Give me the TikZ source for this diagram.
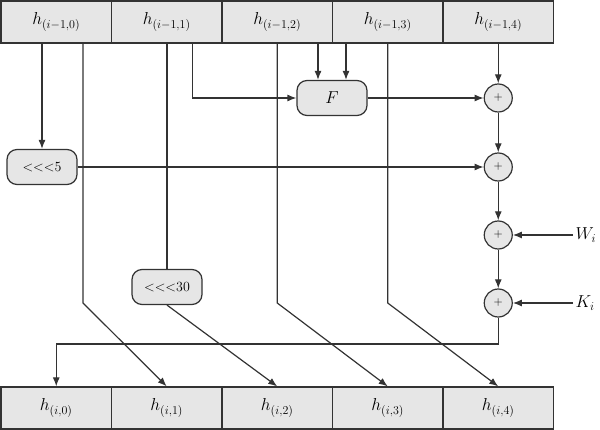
\documentclass[tikz,border=0pt]{standalone}
\usetikzlibrary{arrows.meta,positioning}
\definecolor{BoxGray}{HTML}{E6E6E6}
\definecolor{Ink}{HTML}{333333}

\tikzset{
  hbox/.style={draw=Ink,fill=BoxGray,minimum width=110.5pt,minimum height=42pt,inner sep=0pt},
  rotbox/.style={draw=Ink,fill=BoxGray,rounded corners=10pt,minimum width=70pt,minimum height=35pt,inner sep=0pt},
  adder/.style={circle,draw=Ink,fill=BoxGray,minimum size=28pt,inner sep=0pt,font=\fontsize{13}{14}\selectfont},
  arr/.style={draw=Ink,-{Latex[length=9pt,width=7pt]}},
  wire/.style={draw=Ink}
}

\begin{document}
\begin{tikzpicture}[x=1pt,y=-1pt,line width=1.2pt,font=\fontsize{18}{21}\selectfont]
    \useasboundingbox (0,0) rectangle (600,430);
    % state words, before and after
    \foreach \i in {0,1,2,3,4}{
      \pgfmathsetmacro{\x}{56.25+110.5*\i}
      \node[hbox] (old\i) at (\x,22) {$h_{(i-1,\i)}$};
      \node[hbox] (new\i) at (\x,408) {$h_{(i,\i)}$};
    }
    % round function parts
    \node[rotbox] (F) at (332,98) {$F$};
    \node[rotbox,font=\fontsize{14}{16}\selectfont] (rot5) at (42,167) {<{}<{}<5};
    \node[rotbox,font=\fontsize{14}{16}\selectfont] (rot30) at (167,287) {<{}<{}<30};
    \node[adder] (add1) at (498.25,98) {$+$};
    \node[adder] (add2) at (498.25,167) {$+$};
    \node[adder] (add3) at (498.25,235) {$+$};
    \node[adder] (add4) at (498.25,303) {$+$};
    \node[anchor=west,inner sep=2pt] (Wi) at (573,235) {$W_i$};
    \node[anchor=west,inner sep=2pt] (Ki) at (573,303) {$K_i$};
    \coordinate (b0) at (83,303);
    \coordinate (b2) at (277.25,303);
    \coordinate (b3) at (387.75,303);
    \coordinate (back) at (0,344);

    \draw[arr] (old0.south -| rot5) -- (rot5.north);
    \draw[arr] (old0.south -| b0) -- (b0) -- (new1.north);
    \draw[wire] (old1.south -| rot30) -- (rot30.north);
    \draw[arr] (rot30.south) -- (new2.north);
    \draw[arr] ([xshift=26pt]old1.south) |- (F.west);
    \draw[arr] ([xshift=-14pt]F.north |- old2.south) -- ([xshift=-14pt]F.north);
    \draw[arr] ([xshift=14pt]F.north |- old3.south) -- ([xshift=14pt]F.north);
    \draw[arr] (old2.south) -- (b2) -- (new3.north);
    \draw[arr] (old3.south) -- (b3) -- (new4.north);
    \draw[arr] (old4.south) -- (add1.north);

    \draw[arr] (F.east) -- (add1.west);
    \draw[arr] (rot5.east) -- (add2.west);
    \draw[arr] (add1.south) -- (add2.north);
    \draw[arr] (add2.south) -- (add3.north);
    \draw[arr] (add3.south) -- (add4.north);
    \draw[arr] (Wi.west) -- (add3.east);
    \draw[arr] (Ki.west) -- (add4.east);
    \draw[arr] (add4.south) |- (back -| new0.north) -- (new0.north);
\end{tikzpicture}
\end{document}
